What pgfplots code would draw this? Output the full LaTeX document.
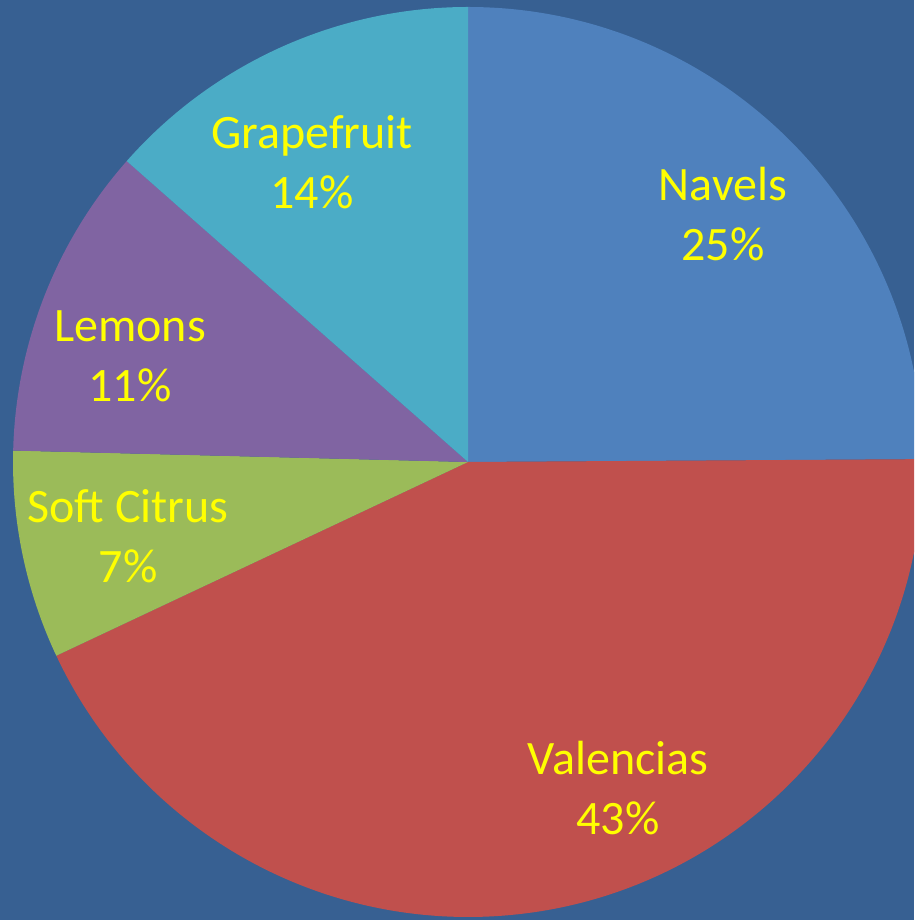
\documentclass[border=0pt]{standalone}
\usepackage{pgfplots}
\usepackage{pgfplotstable}
\pgfplotsset{compat=1.18}
\usepackage{fontspec}
\setmainfont{Carlito}
\definecolor{bg}{HTML}{376092}
\definecolor{cnav}{HTML}{4F81BD}
\definecolor{cval}{HTML}{C0504D}
\definecolor{csoft}{HTML}{9BBB59}
\definecolor{clem}{HTML}{8064A2}
\definecolor{cgrape}{HTML}{4BACC6}
\definecolor{lab}{HTML}{FFFF00}
\pgfplotstableread{
name value
Navels 24.9
Valencias 43.1
SoftCitrus 7.4
Lemons 11.1
Grapefruit 13.5
}\piedata
\pgfplotstablegetelem{0}{value}\of\piedata \let\vA\pgfplotsretval
\pgfplotstablegetelem{1}{value}\of\piedata \let\vB\pgfplotsretval
\pgfplotstablegetelem{2}{value}\of\piedata \let\vC\pgfplotsretval
\pgfplotstablegetelem{3}{value}\of\piedata \let\vD\pgfplotsretval
\pgfplotstablegetelem{4}{value}\of\piedata \let\vE\pgfplotsretval
\pgfmathsetmacro{\aA}{90-3.6*\vA}
\pgfmathsetmacro{\aB}{\aA-3.6*\vB}
\pgfmathsetmacro{\aC}{\aB-3.6*\vC}
\pgfmathsetmacro{\aD}{\aC-3.6*\vD}
\pgfmathsetmacro{\aE}{\aD-3.6*\vE}
\begin{document}
\begin{tikzpicture}
\begin{axis}[
  scale only axis, width=914pt, height=920pt,
  xmin=0, xmax=914, ymin=0, ymax=920,
  axis lines=none, ticks=none,
]
\fill[bg] (rel axis cs:0,0) rectangle (rel axis cs:1,1);
\def\R{455pt}
\fill[cnav] (axis cs:468,458) -- ++(90:\R) arc[start angle=90, end angle=\aA, radius=\R] -- cycle;
\fill[cval] (axis cs:468,458) -- ++(\aA:\R) arc[start angle=\aA, end angle=\aB, radius=\R] -- cycle;
\fill[csoft] (axis cs:468,458) -- ++(\aB:\R) arc[start angle=\aB, end angle=\aC, radius=\R] -- cycle;
\fill[clem] (axis cs:468,458) -- ++(\aC:\R) arc[start angle=\aC, end angle=\aD, radius=\R] -- cycle;
\fill[cgrape] (axis cs:468,458) -- ++(\aD:\R) arc[start angle=\aD, end angle=\aE, radius=\R] -- cycle;
\tikzset{lbl/.style={text=lab, font=\fontsize{48}{60}\selectfont, align=center, inner sep=0pt}}
\node[lbl] at (axis cs:723,706) {Navels\\25\%};
\node[lbl] at (axis cs:618,132) {Valencias\\43\%};
\node[lbl] at (axis cs:128,384) {Soft Citrus\\7\%};
\node[lbl] at (axis cs:130,564) {Lemons\\11\%};
\node[lbl] at (axis cs:312,758) {Grapefruit\\14\%};
\end{axis}
\end{tikzpicture}
\end{document}
